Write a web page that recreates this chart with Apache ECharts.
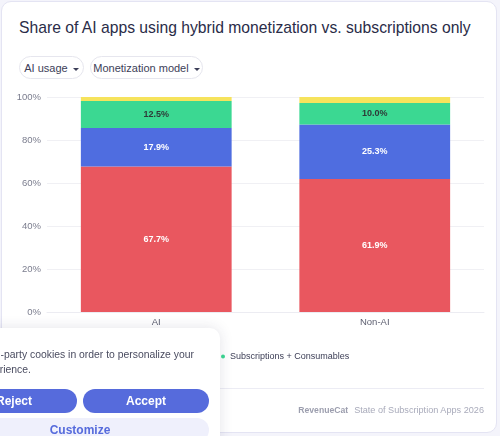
<!DOCTYPE html>
<html>
<head>
<meta charset="utf-8">
<script src="https://cdn.jsdelivr.net/npm/echarts@6/dist/echarts.min.js"></script>
<style>
html, body { margin: 0; padding: 0; background: #f4f4fb; }
body { width: 500px; height: 436px; position: relative; overflow: hidden; font-family: "Liberation Sans", Arial, sans-serif; }
.card { position: absolute; left: 1px; top: 1px; width: 494px; height: 430px; background: #fff; border: 1px solid #e4e4f3; border-radius: 10px; overflow: hidden; }
.title { position: absolute; left: 17px; top: 17px; font-size: 16px; color: #2a2c48; white-space: nowrap; }
.pill { position: absolute; top: 54px; height: 23px; line-height: 22px; border: 1px solid #e6e6ee; border-radius: 12px; font-size: 11px; color: #3c3e58; text-align: center; box-sizing: border-box; white-space: nowrap; }
.pill:after { content: ""; display: inline-block; margin-left: 5px; vertical-align: middle; border-left: 3px solid transparent; border-right: 3px solid transparent; border-top: 3px solid #3c3e58; }
#chart { position: absolute; left: 0; top: 0; width: 500px; height: 436px; }
.footline { position: absolute; left: 17px; right: 12px; top: 386px; border-top: 1px solid #ececf4; }
.footer { position: absolute; right: 12px; top: 402px; font-size: 10px; color: #a9abbb; white-space: nowrap; }
.footer b { font-size: 10px; color: #9c9eae; margin-right: 6px; }
.popup { position: absolute; left: -20px; top: 328px; width: 240px; height: 130px; background: #fff; border-radius: 10px; box-shadow: 0 0 14px rgba(40,40,80,0.13); z-index: 5; }
.line { position: absolute; font-size: 10px; color: #4a4c60; white-space: nowrap; }
.btn { position: absolute; height: 24px; line-height: 24px; border-radius: 12px; text-align: center; font-size: 12px; font-weight: bold; }
.blue { background: #566bdc; color: #fff; }
.light { background: #eff0fc; color: #566bdc; }
</style>
</head>
<body>
<div class="card">
  <div class="title" id="title">Share of AI apps using hybrid monetization vs. subscriptions only</div>
  <div class="pill" style="left:17px; width:65px;">AI usage</div>
  <div class="pill" style="left:88px; width:113px;">Monetization model</div>
  <div id="chart"></div>
  <div class="footline"></div>
  <div class="footer"><b id="brand">RevenueCat</b><span id="foot">State of Subscription Apps 2026</span></div>
</div>
<div class="popup">
  <div class="line" id="cookie" style="right:26px; top:21px;">We use third-party cookies in order to personalize your</div>
  <div class="line" id="cookie2" style="right:189px; top:36px;">experience.</div>
  <div class="btn blue" style="left:-29px; top:61px; width:126px;">Reject</div>
  <div class="btn blue" style="left:103px; top:61px; width:126px;">Accept</div>
  <div class="btn light" style="left:-29px; top:90px; width:258px;">Customize</div>
</div>
<script>
const categories = ['AI', 'Non-AI']
const seriesNames = ['Subscriptions only', 'Subscriptions + Non-consumables', 'Subscriptions + Consumables', 'Consumables only']
const subsOnly = [67.7, 61.9]
const subsNonConsumables = [17.9, 25.3]
const subsConsumables = [12.5, 10.0]
const otherModels = [1.9, 2.8]
const yTicks = [0, 20, 40, 60, 80, 100]

// scale header/footer font size so the text spans the width seen in the reference
function fitFont(el, target) {
  const w = el.getBoundingClientRect().width
  const fs = parseFloat(getComputedStyle(el).fontSize)
  el.style.fontSize = (fs * target / w) + 'px'
}
fitFont(document.getElementById('title'), 452)
fitFont(document.getElementById('foot'), 130)
fitFont(document.getElementById('brand'), 50)
fitFont(document.getElementById('cookie'), 252)
document.getElementById('cookie2').style.fontSize = document.getElementById('cookie').style.fontSize

const colors = ['#e9575f', '#4f6de0', '#3bd892', '#f6e35c']
const labelColors = ['#fff', '#fff', '#2e3a38', '#333']
const values = [subsOnly, subsNonConsumables, subsConsumables, otherModels]

const chart = echarts.init(document.getElementById('chart'))
const series = values.map((data, i) => ({
  name: seriesNames[i],
  type: 'bar',
  stack: 'total',
  barWidth: '69%',
  data: data,
  itemStyle: { color: colors[i] },
  label: {
    show: i < 3,
    position: 'inside',
    color: labelColors[i],
    fontSize: 9,
    fontWeight: 'bold',
    fontFamily: 'Liberation Sans, Arial, sans-serif',
    formatter: p => p.value.toFixed(1) + '%'
  }
}))

const legendText = { color: '#3b3d55', fontSize: 9, fontFamily: 'Liberation Sans, Arial, sans-serif' }
chart.setOption({
  animation: false,
  grid: { left: 45, right: 18, top: 95, bottom: 126 },
  legend: [{
    data: [seriesNames[2]],
    left: 214,
    top: 345,
    icon: 'circle',
    itemWidth: 4,
    itemHeight: 4,
    itemGap: 12,
    textStyle: legendText
  }, {
    data: [seriesNames[0], seriesNames[1], seriesNames[3]],
    left: 10,
    top: 345,
    width: 190,
    icon: 'circle',
    itemWidth: 4,
    itemHeight: 4,
    textStyle: legendText
  }],
  xAxis: {
    type: 'category',
    data: categories,
    axisTick: { show: false },
    axisLine: { lineStyle: { color: '#ececf2' } },
    axisLabel: { color: '#5d5f70', fontSize: 9.5, margin: 5, fontFamily: 'Liberation Sans, Arial, sans-serif' }
  },
  yAxis: {
    type: 'value',
    min: yTicks[0],
    max: yTicks[yTicks.length - 1],
    interval: 20,
    axisLabel: { color: '#7b7d8e', fontSize: 9.5, margin: 6, formatter: '{value}%', fontFamily: 'Liberation Sans, Arial, sans-serif' },
    splitLine: { lineStyle: { color: '#f0f0f4' } }
  },
  series: series
})
</script>
</body>
</html>
